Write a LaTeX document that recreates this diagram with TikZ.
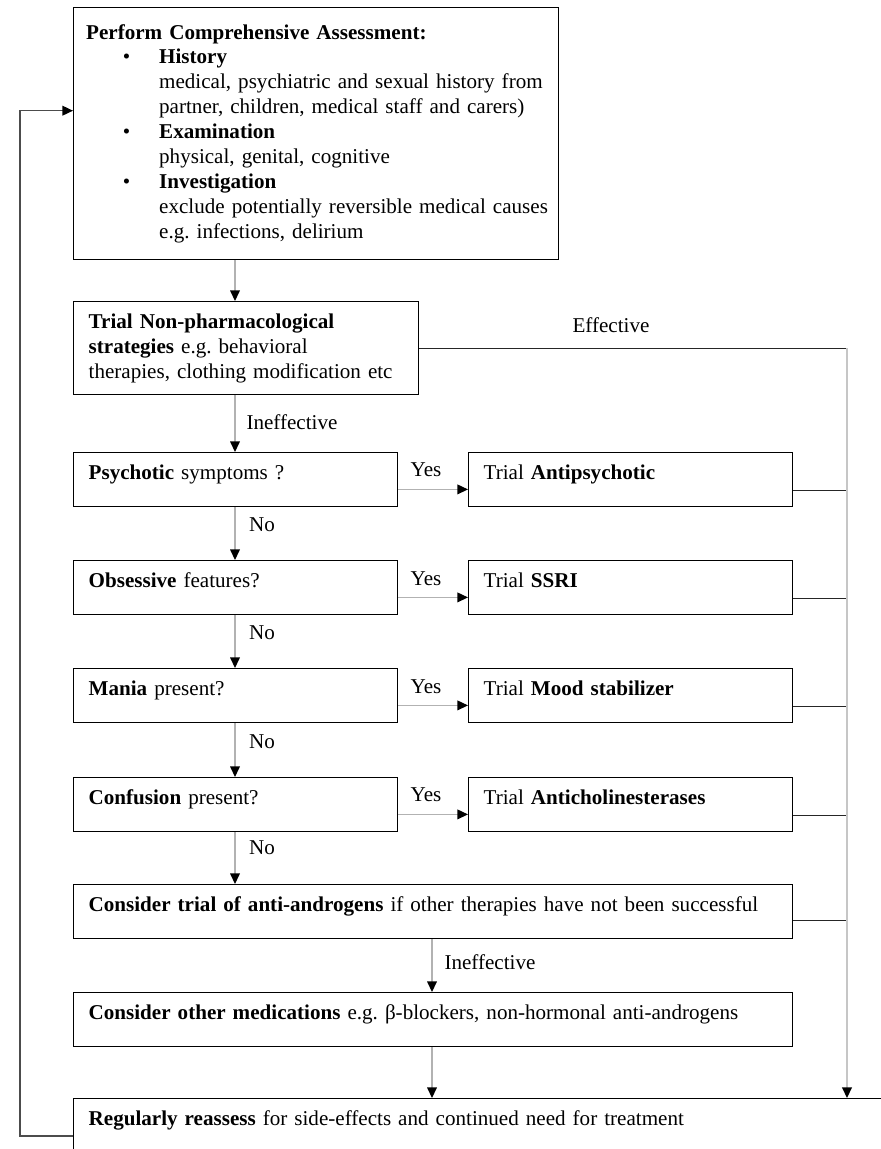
\documentclass[tikz,border=0pt]{standalone}
\usepackage{fontspec}
\setmainfont{Liberation Serif}
\usetikzlibrary{arrows.meta, positioning, calc}

\begin{document}
\frenchspacing
\begin{tikzpicture}[x=0.02cm, y=-0.02cm,
	box/.style={draw, line width=0.8pt, anchor=north west, align=left,
		inner xsep=0.3cm, inner ysep=0pt, text height=0.54cm, text depth=0.54cm,
		font=\fontsize{12}{14.2}\selectfont},
	tallbox/.style={box, text height=, text depth=, inner ysep=#1},
	lbl/.style={font=\fontsize{12}{14.2}\selectfont, inner sep=1pt},
	flow/.style={draw=gray!60, line width=0.7pt, -{Triangle[length=6pt, width=5.5pt, color=black]}},
	tie/.style={draw=black!85, line width=0.8pt},
	rail/.style={draw=gray!45, line width=0.8pt}]
	\clip (0,0) rectangle (881,1149);
	% cajas %
	\node[tallbox=0.33cm, text width=9.2cm, inner xsep=0.25cm] (assess) at (73,7) {%
		\textbf{Perform Comprehensive Assessment:}\\
		\makebox[1.46cm][r]{{\large\textbullet}\hspace{0.58cm}}\textbf{History}\\
		\hspace*{1.46cm}\mbox{medical, psychiatric and sexual history from}\\
		\hspace*{1.46cm}\mbox{partner, children, medical staff and carers)}\\
		\makebox[1.46cm][r]{{\large\textbullet}\hspace{0.58cm}}\textbf{Examination}\\
		\hspace*{1.46cm}physical, genital, cognitive\\
		\makebox[1.46cm][r]{{\large\textbullet}\hspace{0.58cm}}\textbf{Investigation}\\
		\hspace*{1.46cm}\mbox{exclude potentially reversible medical causes}\\
		\hspace*{1.46cm}e.g. infections, delirium};
	\node[tallbox=0.24cm, text width=6.3cm] (nonpharm) at (73,301) {%
		\textbf{Trial Non-pharmacological}\\
		\textbf{strategies} e.g. behavioral\\
		therapies, clothing modification etc};
	\node[box, text width=5.88cm] (psy) at (73,452) {\textbf{Psychotic} symptoms ?};
	\node[box, text width=5.88cm] (obs) at (73,560) {\textbf{Obsessive} features?};
	\node[box, text width=5.88cm] (mania) at (73,668) {\textbf{Mania} present?};
	\node[box, text width=5.88cm] (conf) at (73,777) {\textbf{Confusion} present?};
	\node[box, text width=5.88cm] (trpsy) at (468,452) {Trial \textbf{Antipsychotic}};
	\node[box, text width=5.88cm] (trssri) at (468,560) {Trial \textbf{SSRI}};
	\node[box, text width=5.88cm] (trmood) at (468,668) {Trial \textbf{Mood stabilizer}};
	\node[box, text width=5.88cm] (trchol) at (468,777) {Trial \textbf{Anticholinesterases}};
	\node[box, text width=13.78cm] (antiandro) at (73,884) {\textbf{Consider trial of anti-androgens} if other therapies have not been successful};
	\node[box, text width=13.78cm] (othermed) at (73,992) {\textbf{Consider other medications} e.g. β-blockers, non-hormonal anti-androgens};
	\node[box, text width=17cm, text depth=1.4cm] (reassess) at (73,1098) {\textbf{Regularly reassess} for side-effects and continued need for treatment};
	% puntos de apoyo %
	\coordinate (spine) at (235,0);
	\coordinate (spine2) at (432,0);
	\coordinate (rightrail) at (847,0);
	\coordinate (back) at (20,600);
	% etiquetas %
	\node[lbl] (effective) at (611,325) {Effective};
	\node[lbl] (ineff1) at (292,422) {Ineffective};
	\node[lbl] (no1) at (262,525) {No};
	\node[lbl] (no2) at (262,633) {No};
	\node[lbl] (no3) at (262,742) {No};
	\node[lbl] (no4) at (262,848) {No};
	\node[lbl] (yes1) at (426,470) {Yes};
	\node[lbl] (yes2) at (426,579) {Yes};
	\node[lbl] (yes3) at (426,687) {Yes};
	\node[lbl] (yes4) at (426,795) {Yes};
	\node[lbl] (ineff2) at (490,962) {Ineffective};
	% conexiones %
	\draw[flow] (assess.south -| spine) -- (nonpharm.north -| spine);
	\draw[flow] (nonpharm.south -| spine) -- (psy.north -| spine);
	\draw[flow] (psy.south -| spine) -- (obs.north -| spine);
	\draw[flow] (obs.south -| spine) -- (mania.north -| spine);
	\draw[flow] (mania.south -| spine) -- (conf.north -| spine);
	\draw[flow] (conf.south -| spine) -- (antiandro.north -| spine);
	\draw[flow] (antiandro.south -| spine2) -- (othermed.north -| spine2);
	\draw[flow] (othermed.south -| spine2) -- (reassess.north -| spine2);
	\foreach \q/\t in {psy/trpsy, obs/trssri, mania/trmood, conf/trchol} {
		\draw[flow] ([yshift=0.36cm]\q.south east) -- ([yshift=0.36cm]\q.south east -| \t.west);
		\draw[tie] ([yshift=0.34cm]\t.south east) -- ([yshift=0.34cm]\t.south east -| rightrail);
	}
	\draw[tie] ([yshift=0.38cm]antiandro.south east) -- ([yshift=0.38cm]antiandro.south east -| rightrail);
	\draw[tie] (nonpharm.east) -- (nonpharm.east -| rightrail);
	\draw[rail, -{Triangle[length=6pt, width=5.5pt, color=black]}] (nonpharm.east -| rightrail) -- (reassess.north -| rightrail);
	\draw[draw=black!70, line width=0.8pt, -{Triangle[length=6pt, width=5.5pt, color=black]}]
		([yshift=-0.76cm]reassess.north west) -| (back) |- ([yshift=0.46cm]assess.west);
\end{tikzpicture}
\end{document}
